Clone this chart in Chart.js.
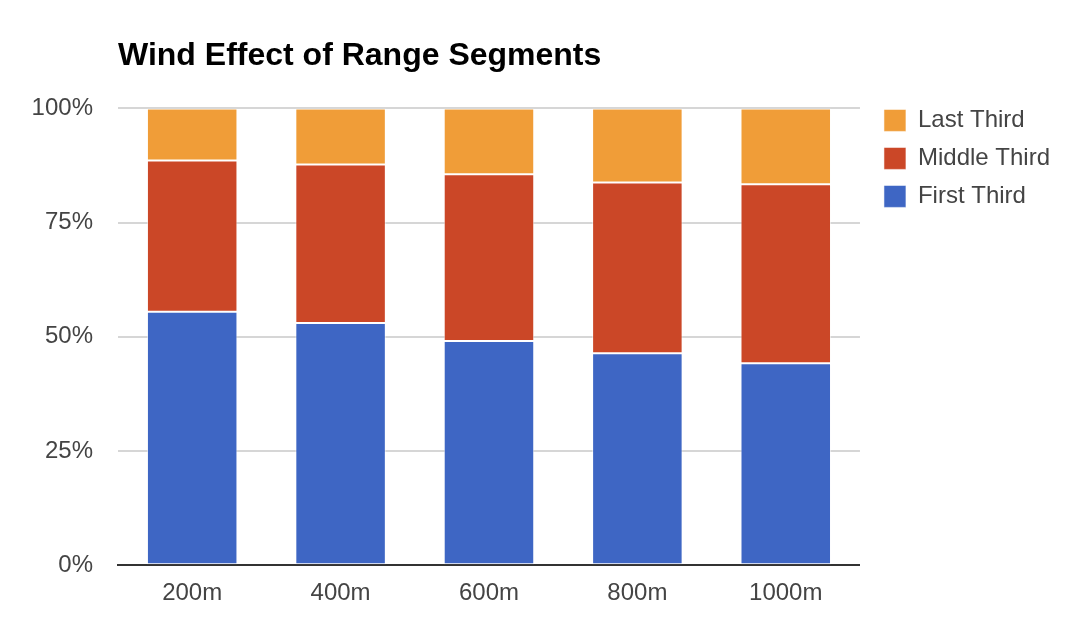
<!DOCTYPE html>
<html>
<head>
<meta charset="utf-8">
<script src="https://cdn.jsdelivr.net/npm/chart.js@4/dist/chart.umd.min.js"></script>
<style>
  html, body { margin: 0; padding: 0; background: #fff; }
  #wrap { width: 1080px; height: 636px; position: relative; }
</style>
</head>
<body>
<div id="wrap"><canvas id="c" width="1080" height="636"></canvas></div>
<script>
const titleText = 'Wind Effect of Range Segments';
const categories = ['200m', '400m', '600m', '800m', '1000m'];
const firstThird = [55.5, 53.0, 49.1, 46.4, 44.2];
const middleThird = [33.1, 34.7, 36.5, 37.4, 39.2];
const lastThird = [11.4, 12.3, 14.4, 16.2, 16.6];
const yTicks = [0, 25, 50, 75, 100];

const FONT = "'Liberation Sans', Arial, sans-serif";
const edge = 'rgba(255,255,255,0.55)';

const legendShift = {
  id: 'legendShift',
  afterLayout(chart) {
    const lg = chart.legend;
    if (!lg) return;
    const pad = lg.options.labels.padding;
    const h = lg.bottom - lg.top;
    lg.top = chart.chartArea.top - pad;
    lg.bottom = lg.top + h;
    const w = lg.right - lg.left;
    lg.left = chart.chartArea.right + 24 - pad;
    lg.right = lg.left + w;
  }
};

new Chart(document.getElementById('c'), {
  type: 'bar',
  data: {
    labels: categories,
    datasets: [
      { label: 'First Third', data: firstThird, backgroundColor: '#3e66c4', borderColor: edge, borderWidth: 1, borderSkipped: false },
      { label: 'Middle Third', data: middleThird, backgroundColor: '#cb4727', borderColor: edge, borderWidth: 1, borderSkipped: false },
      { label: 'Last Third', data: lastThird, backgroundColor: '#f09d38', borderColor: edge, borderWidth: 1, borderSkipped: false }
    ]
  },
  plugins: [legendShift],
  options: {
    responsive: false,
    animation: false,
    events: [],
    layout: { padding: { left: 0, right: 30, top: 0, bottom: 14 } },
    datasets: { bar: { barPercentage: 0.61, categoryPercentage: 1.0 } },
    plugins: {
      title: {
        display: true,
        text: titleText,
        align: 'start',
        fullSize: false,
        color: '#000',
        font: { family: FONT, size: 32, weight: 'bold' },
        padding: { top: 37, bottom: 33 }
      },
      legend: {
        display: true,
        position: 'right',
        align: 'start',
        fullSize: false,
        reverse: true,
        labels: {
          boxWidth: 22,
          boxHeight: 22,
          padding: 14,
          color: '#444',
          font: { family: FONT, size: 24 }
        }
      },
      tooltip: { enabled: false }
    },
    scales: {
      x: {
        stacked: true,
        grid: { display: false, drawTicks: false },
        border: { display: true, color: '#333', width: 2 },
        ticks: { color: '#444', padding: 14, font: { family: FONT, size: 24 } }
      },
      y: {
        stacked: true,
        min: 0,
        max: 100,
        afterFit: (s) => { s.width = 118; },
        afterBuildTicks: (s) => { s.ticks = yTicks.map(v => ({ value: v })); },
        grid: { color: '#d6d6d6', lineWidth: 2, drawTicks: false },
        border: { display: false },
        ticks: {
          color: '#444',
          padding: 25,
          font: { family: FONT, size: 24 },
          callback: (v) => v + '%'
        }
      }
    }
  }
});
</script>
</body>
</html>
